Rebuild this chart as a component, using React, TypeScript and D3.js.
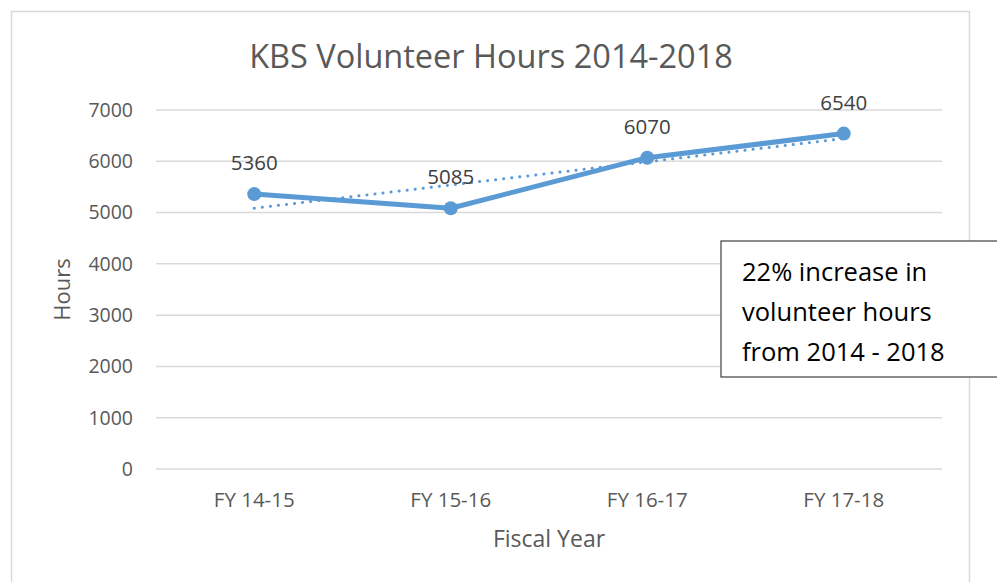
import React from "react";
import * as d3 from "d3";

const categories = ["FY 14-15", "FY 15-16", "FY 16-17", "FY 17-18"];
const hours = [5360, 5085, 6070, 6540];
const yTicks = [0, 1000, 2000, 3000, 4000, 5000, 6000, 7000];
const titleText = "KBS Volunteer Hours 2014-2018";
const noteLines = ["22% increase in", "volunteer hours", "from 2014 - 2018"];

const W = 997;
const H = 582;
const plot = { left: 156, right: 942, top: 110, bottom: 469 };
const color = "#5B9BD5";
const font = "'Open Sans', sans-serif";

export default function App() {
  const x = d3.scaleBand().domain(categories).range([plot.left, plot.right]);
  const cx = (c: string) => (x(c) as number) + x.bandwidth() / 2;
  const y = d3.scaleLinear().domain([0, 7000]).range([plot.bottom, plot.top]);

  const pts: [number, number][] = categories.map((c, i) => [cx(c), y(hours[i])]);
  const line = d3.line()(pts) as string;

  // linear trendline (least squares)
  const n = hours.length;
  const xs = hours.map((_, i) => i + 1);
  const mx = d3.mean(xs) as number;
  const my = d3.mean(hours) as number;
  const slope =
    (d3.sum(xs.map((xv, i) => (xv - mx) * (hours[i] - my))) as number) /
    (d3.sum(xs.map((xv) => (xv - mx) ** 2)) as number);
  const tv = (xv: number) => my + slope * (xv - mx);
  const trend = d3.line()([
    [cx(categories[0]), y(tv(1))],
    [cx(categories[n - 1]), y(tv(n))],
  ]) as string;

  return (
    <svg width={W} height={H} style={{ position: "absolute", left: 0, top: 0 }}>
      <rect x={0} y={0} width={W} height={H} fill="#fff" />
      <rect x={11.5} y={11.5} width={958} height={600} fill="#fff" stroke="#d9d9d9" strokeWidth={1.5} />
      <text x={491} y={68} textAnchor="middle" fontFamily={font} fontSize={32.5} fill="#595959">
        {titleText}
      </text>
      {yTicks.map((t) => (
        <g key={t}>
          <line x1={plot.left} x2={plot.right} y1={y(t)} y2={y(t)} stroke="#d9d9d9" strokeWidth={1.5} />
          <text x={133} y={y(t)} dy="0.35em" textAnchor="end" fontFamily={font} fontSize={19.5} fill="#595959">
            {t}
          </text>
        </g>
      ))}
      {categories.map((c) => (
        <text key={c} x={cx(c)} y={507} textAnchor="middle" fontFamily={font} fontSize={20.5} fill="#595959">
          {c}
        </text>
      ))}
      <text x={549} y={547} textAnchor="middle" fontFamily={font} fontSize={23} fill="#595959">
        Fiscal Year
      </text>
      <text
        transform={`translate(70,${(plot.top + plot.bottom) / 2}) rotate(-90)`}
        textAnchor="middle"
        fontFamily={font}
        fontSize={22}
        fill="#595959"
      >
        Hours
      </text>
      <path d={trend} fill="none" stroke={color} strokeWidth={3} strokeDasharray="0.1 8" strokeLinecap="round" />
      <path d={line} fill="none" stroke={color} strokeWidth={5} strokeLinejoin="round" />
      {pts.map((p, i) => (
        <circle key={i} cx={p[0]} cy={p[1]} r={7} fill={color} />
      ))}
      {pts.map((p, i) => (
        <text key={"l" + i} x={p[0]} y={p[1] - 24} textAnchor="middle" fontFamily={font} fontSize={20.5} fill="#404040">
          {hours[i]}
        </text>
      ))}
      <rect x={721} y={241} width={300} height={136} fill="#fff" stroke="#404040" strokeWidth={1.2} />
      {noteLines.map((l, i) => (
        <text key={l} x={742} y={281 + i * 40} fontFamily={font} fontSize={25.5} fill="#000">
          {l}
        </text>
      ))}
    </svg>
  );
}
